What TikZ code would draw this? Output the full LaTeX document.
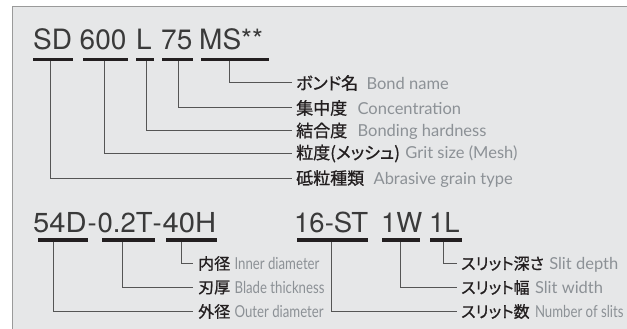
\documentclass[tikz,border=0pt]{standalone}
\usepackage{fontspec}
\usepackage{graphicx}
\setmainfont{TeX Gyre Heros}
\newfontfamily\codefont{TeX Gyre Heros}
\newfontfamily\enfont{Lato}
\newfontfamily\jpfont[RawFeature=+palt,FakeBold=0.9]{Noto Sans CJK JP}
\definecolor{bg}{HTML}{E6E7E8}
\definecolor{frame}{HTML}{9A9A9A}
\definecolor{codec}{HTML}{3A3A3A}
\definecolor{barc}{HTML}{231F20}
\definecolor{connc}{HTML}{555555}
\definecolor{enc}{HTML}{8C9196}
\definecolor{jpc}{HTML}{231F20}
\tikzset{
  code/.style={inner sep=0pt, anchor=base west, text=codec, font=\codefont\fontsize{28}{28}\selectfont},
  codeb/.style={code, font=\codefont\fontsize{27.5}{27.5}\selectfont},
  bar/.style={fill=barc, inner sep=0pt, minimum height=3.3pt},
  conn/.style={draw=connc, line width=1pt},
  jptop/.style={anchor=west, inner xsep=4pt, inner ysep=0pt, text=jpc, font=\jpfont\fontsize{17}{17}\selectfont},
  jpbot/.style={anchor=west, inner xsep=5pt, inner ysep=0pt, text=jpc, font=\jpfont\fontsize{16}{16}\selectfont},
  entop/.style={anchor=base west, inner sep=0pt, text=enc, font=\enfont\fontsize{16.5}{16.5}\selectfont},
  encond/.style={anchor=base west, inner sep=0pt, text=enc, font=\enfont\fontsize{16.5}{16.5}\selectfont},
}
\newcommand{\cond}[1]{\scalebox{0.8}[1]{#1}}
\newcommand{\wide}[1]{\scalebox{1.06}[1]{#1}}
\begin{document}
\begin{tikzpicture}[x=1pt,y=-1pt]
\useasboundingbox (0,0) rectangle (627,329);
\fill[white] (0,0) rectangle (627,329);
\fill[bg] (12.5,6.5) rectangle (627,329);
\draw[frame, line width=1.3pt] (12.5,329) -- (12.5,6.5) -- (627,6.5);

% ---- top code ----
\node[code] (cSD) at (33,50) {SD};
\node[code] (c600) at (79.5,50) {600};
\node[code] (cL) at (136,50) {L};
\node[code] (c75) at (161,50) {75};
\node[code] (cMS) at (199,50) {MS**};

\node[bar, minimum width=40pt] (bSD) at (53,59.4) {};
\node[bar, minimum width=45pt] (b600) at (105.5,59.4) {};
\node[bar, minimum width=18pt] (bL) at (145,59.4) {};
\node[bar, minimum width=31pt] (b75) at (177.5,59.4) {};
\node[bar, minimum width=68pt] (bMS) at (235,59.4) {};

\node[jptop] (jMS) at (292,83) {ボンド名};
\node[jptop] (j75) at (292,108) {集中度};
\node[jptop] (jL) at (292,130.5) {結合度};
\node[jptop] (j600) at (292,153.5) {粒度(メッシュ)};
\node[jptop] (jSD) at (292,178) {砥粒種類};

\node[entop] (eMS) at ([xshift=4pt]jMS.base east) {Bond name};
\node[entop] (e75) at ([xshift=6pt]j75.base east) {Concentration};
\node[entop] (eL) at ([xshift=6pt]jL.base east) {Bonding hardness};
\node[entop] (e600) at ([xshift=1pt]j600.base east) {Grit size (Mesh)};
\node[entop] (eSD) at ([xshift=5pt]jSD.base east) {Abrasive grain type};

\draw[conn] ([xshift=-6pt]bMS.south) |- (jMS.west);
\draw[conn] ([xshift=0.5pt]b75.south) |- (j75.west);
\draw[conn] ([xshift=1pt]bL.south) |- (jL.west);
\draw[conn] ([xshift=-1.5pt]b600.south) |- (j600.west);
\draw[conn] ([xshift=-2.3pt]bSD.south) |- (jSD.west);

% ---- bottom code ----
\node[codeb] (c54) at (33,232) {\wide{54D}};
\node[codeb] (cd1) at (87.5,232) {-};
\node[codeb] (c02) at (97.5,232) {0.2T};
\node[codeb] (cd2) at (152.5,232) {-};
\node[codeb] (c40) at (162.5,232) {\wide{40H}};
\node[codeb] (c16) at (294,232) {16-ST};
\node[codeb] (c1W) at (381,232) {1W};
\node[codeb] (c1L) at (429,232) {1L};

\node[bar, minimum width=50pt] (b54) at (63,240) {};
\node[bar, minimum width=53pt] (b02) at (128.5,240) {};
\node[bar, minimum width=51pt] (b40) at (191,240) {};
\node[bar, minimum width=71pt] (b16) at (332.5,240) {};
\node[bar, minimum width=38pt] (b1W) at (401,240) {};
\node[bar, minimum width=32pt] (b1L) at (446,240) {};

\node[jpbot] (j40) at (193,263.5) {内径};
\node[jpbot] (j02) at (193,287.5) {刃厚};
\node[jpbot] (j54) at (193,311.5) {外径};
\node[encond] (e40) at ([xshift=-1pt]j40.base east) {\cond{Inner diameter}};
\node[encond] (e02) at ([xshift=-1pt]j02.base east) {\cond{Blade thickness}};
\node[encond] (e54) at ([xshift=-1pt]j54.base east) {\cond{Outer diameter}};

\node[jpbot, inner xsep=4pt] (j1L) at (457,263.5) {スリット深さ};
\node[jpbot, inner xsep=4pt] (j1W) at (457,287.5) {スリット幅};
\node[jpbot, inner xsep=4pt] (j16) at (457,311.5) {スリット数};
\node[entop] (e1L) at ([xshift=1pt]j1L.base east) {Slit depth};
\node[entop] (e1W) at ([xshift=1pt]j1W.base east) {Slit width};
\node[encond] (e16) at ([xshift=1pt]j16.base east) {\cond{Number of slits}};

\draw[conn] ([xshift=-10pt]b40.south) |- (j40.west);
\draw[conn] ([xshift=-6.5pt]b02.south) |- (j02.west);
\draw[conn] ([xshift=-10pt]b54.south) |- (j54.west);
\draw[conn] ([xshift=-1.5pt]b16.south) |- (j16.west);
\draw[conn] ([xshift=-1pt]b1W.south) |- (j1W.west);
\draw[conn] ([xshift=-3pt]b1L.south) |- (j1L.west);
\end{tikzpicture}
\end{document}
